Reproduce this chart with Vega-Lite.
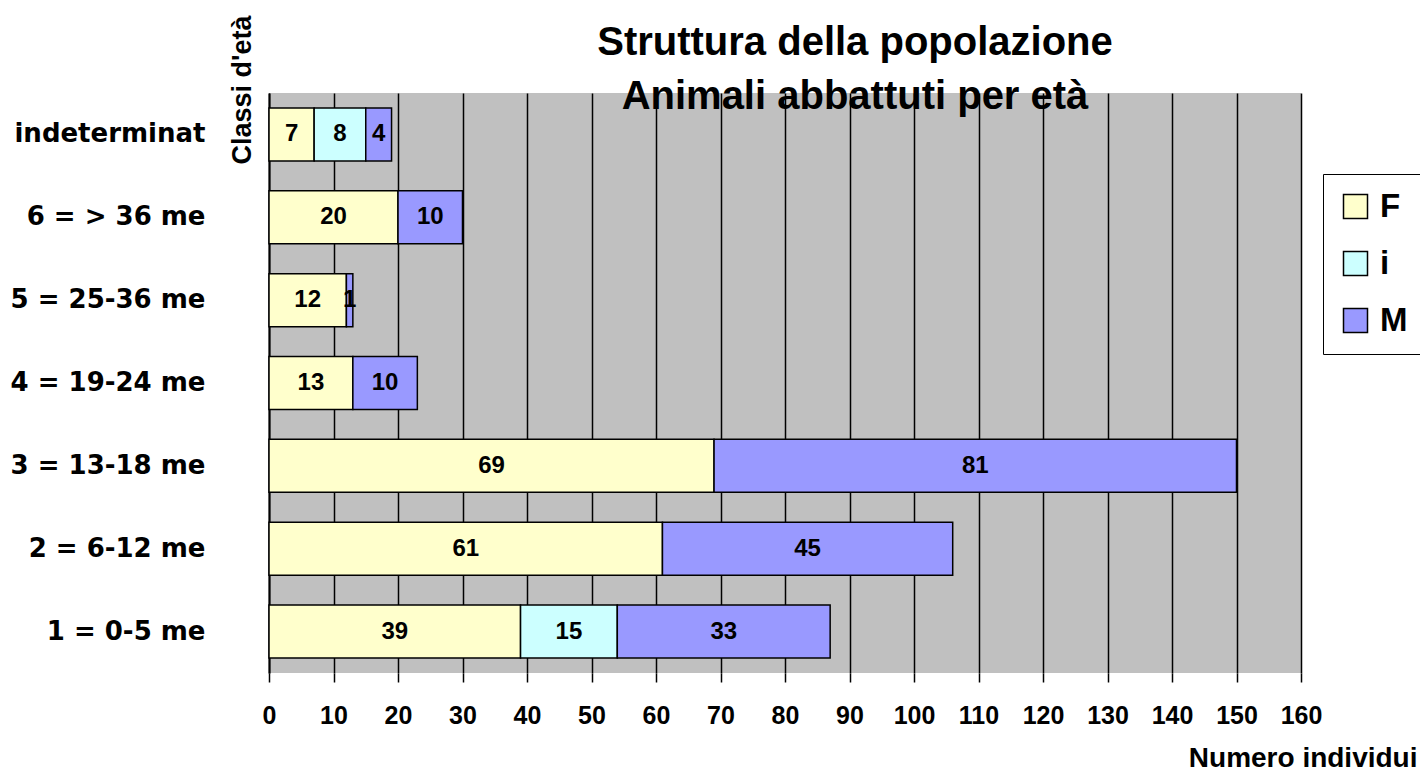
{
  "$schema": "https://vega.github.io/schema/vega-lite/v6.json",
  "width": 1032,
  "height": 580,
  "autosize": {"type": "none"},
  "padding": {"left": 269, "top": 93, "right": 119, "bottom": 98},
  "background": "white",
  "title": {
    "text": ["Struttura della popolazione", "Animali abbattuti per età"],
    "font": "Liberation Sans",
    "fontSize": 40,
    "fontWeight": "bold",
    "color": "black",
    "anchor": "middle",
    "dx": 70,
    "lineHeight": 54,
    "offset": -102
  },
  "datasets": {
    "conteggi": [
      {"classe": "indeterminat", "sesso": "F", "n": 7},
      {"classe": "indeterminat", "sesso": "i", "n": 8},
      {"classe": "indeterminat", "sesso": "M", "n": 4},
      {"classe": "6 = > 36 me", "sesso": "F", "n": 20},
      {"classe": "6 = > 36 me", "sesso": "M", "n": 10},
      {"classe": "5 = 25-36 me", "sesso": "F", "n": 12},
      {"classe": "5 = 25-36 me", "sesso": "M", "n": 1},
      {"classe": "4 = 19-24 me", "sesso": "F", "n": 13},
      {"classe": "4 = 19-24 me", "sesso": "M", "n": 10},
      {"classe": "3 = 13-18 me", "sesso": "F", "n": 69},
      {"classe": "3 = 13-18 me", "sesso": "M", "n": 81},
      {"classe": "2 = 6-12 me", "sesso": "F", "n": 61},
      {"classe": "2 = 6-12 me", "sesso": "M", "n": 45},
      {"classe": "1 = 0-5 me", "sesso": "F", "n": 39},
      {"classe": "1 = 0-5 me", "sesso": "i", "n": 15},
      {"classe": "1 = 0-5 me", "sesso": "M", "n": 33}
    ],
    "serie": [
      {"sesso": "F", "ordine": 1},
      {"sesso": "i", "ordine": 2},
      {"sesso": "M", "ordine": 3}
    ]
  },
  "data": {"name": "conteggi"},
  "transform": [
    {"lookup": "sesso", "from": {"data": {"name": "serie"}, "key": "sesso", "fields": ["ordine"]}}
  ],
  "encoding": {
    "y": {
      "field": "classe",
      "type": "nominal",
      "sort": ["indeterminat", "6 = > 36 me", "5 = 25-36 me", "4 = 19-24 me", "3 = 13-18 me", "2 = 6-12 me", "1 = 0-5 me"],
      "scale": {"paddingInner": 0.36, "paddingOuter": 0.18},
      "axis": {
        "title": "Classi d'età",
        "titleFont": "Liberation Sans",
        "titleFontSize": 27,
        "titleFontWeight": "bold",
        "titleColor": "black",
        "titleAngle": -90,
        "titleX": -19,
        "titleY": -78,
        "titleAlign": "right",
        "titleBaseline": "alphabetic",
        "labelFont": "DejaVu Sans",
        "labelFontSize": 26,
        "labelFontWeight": "bold",
        "labelColor": "black",
        "labelPadding": 64,
        "labelLimit": 400,
        "labelAlign": "right",
        "labelBaseline": "middle",
        "ticks": false,
        "domain": true,
        "domainColor": "black",
        "domainWidth": 2,
        "grid": false
      }
    }
  },
  "layer": [
    {
      "mark": {"type": "bar", "stroke": "black", "strokeWidth": 1.5, "opacity": 1},
      "encoding": {
        "x": {
          "field": "n",
          "type": "quantitative",
          "stack": "zero",
          "scale": {"domain": [0, 160], "nice": false},
          "axis": {
            "values": [0, 10, 20, 30, 40, 50, 60, 70, 80, 90, 100, 110, 120, 130, 140, 150, 160],
            "title": "Numero individui",
            "titleFont": "Liberation Sans",
            "titleFontSize": 28,
            "titleFontWeight": "bold",
            "titleColor": "black",
            "titleX": 1148,
            "titleY": 93,
            "titleAlign": "right",
            "titleBaseline": "alphabetic",
            "labelFont": "Liberation Sans",
            "labelFontSize": 25,
            "labelFontWeight": "bold",
            "labelColor": "black",
            "labelPadding": 21,
            "labelFlush": false,
            "labelOverlap": false,
            "grid": true,
            "gridColor": "black",
            "gridWidth": 1.5,
            "gridOpacity": 1,
            "domain": false,
            "ticks": true,
            "tickColor": "black",
            "tickWidth": 1.5,
            "tickSize": 9
          }
        },
        "color": {
          "field": "sesso",
          "type": "nominal",
          "sort": ["F", "i", "M"],
          "scale": {"domain": ["F", "i", "M"], "range": ["#FFFFCC", "#CCFFFF", "#9999FF"]},
          "legend": {
            "title": null,
            "orient": "none",
            "legendX": 1054,
            "legendY": 81,
            "symbolType": "square",
            "symbolSize": 576,
            "symbolStrokeColor": "black",
            "symbolStrokeWidth": 1.5,
            "symbolOpacity": 1,
            "labelFont": "Liberation Sans",
            "labelFontSize": 33,
            "labelFontWeight": "bold",
            "labelColor": "black",
            "labelOffset": 8,
            "padding": 16,
            "rowPadding": 23,
            "strokeColor": "black",
            "fillColor": "white"
          }
        },
        "order": {"field": "ordine", "type": "quantitative"}
      }
    },
    {
      "mark": {"type": "text", "font": "Liberation Sans", "fontSize": 24, "fontWeight": "bold", "color": "black", "baseline": "middle", "align": "center"},
      "encoding": {
        "x": {"field": "n", "type": "quantitative", "stack": "zero", "bandPosition": 0.5},
        "detail": {"field": "sesso", "type": "nominal"},
        "order": {"field": "ordine", "type": "quantitative"},
        "text": {"field": "n", "type": "quantitative"}
      }
    }
  ],
  "config": {
    "view": {"fill": "#C0C0C0", "stroke": null}
  }
}
